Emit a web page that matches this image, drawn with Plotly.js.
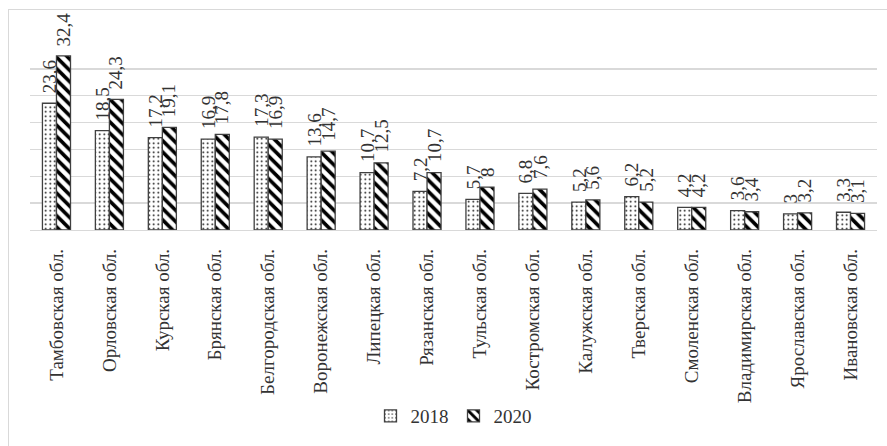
<!DOCTYPE html>
<html><head><meta charset="utf-8">
<script src="https://cdn.plot.ly/plotly-3.0.1.min.js"></script>
<style>
html,body{margin:0;padding:0;overflow:hidden;background:#fff;}
#frame{position:absolute;left:8px;top:9px;width:900px;height:460px;border:1px solid #d9d9d9;box-sizing:border-box;pointer-events:none;}
#chart{position:absolute;left:0;top:0;width:887px;height:446px;}
</style></head>
<body>
<div id="chart"></div>
<div id="frame"></div>
<script>
const categories = ["Тамбовская обл.","Орловская обл.","Курская обл.","Брянская обл.","Белгородская обл.","Воронежская обл.","Липецкая обл.","Рязанская обл.","Тульская обл.","Костромская обл.","Калужская обл.","Тверская обл.","Смоленская обл.","Владимирская обл.","Ярославская обл.","Ивановская обл."];
const values2018 = [23.6,18.5,17.2,16.9,17.3,13.6,10.7,7.2,5.7,6.8,5.2,6.2,4.2,3.6,3,3.3];
const values2020 = [32.4,24.3,19.1,17.8,16.9,14.7,12.5,10.7,8,7.6,5.6,5.2,4.2,3.4,3.2,3.1];
const seriesNames = ["2018","2020"];

const fontFam = "Times New Roman, Liberation Serif, DejaVu Serif, serif";
const fmt = v => String(v).replace('.', ',');

const common = {
  type: 'bar',
  x: categories,
  hoverinfo: 'none'
};

const t1 = Object.assign({}, common, {
  name: seriesNames[0],
  y: values2018,
  marker: {color: 'white', line: {color: '#404040', width: 1.3},
    pattern: {shape: '.', fgcolor: 'black', bgcolor: 'white', size: 4.5, solidity: 0.12}}
});
const t2 = Object.assign({}, common, {
  name: seriesNames[1],
  y: values2020,
  marker: {color: 'white', line: {color: '#404040', width: 1.3},
    pattern: {shape: '\\', fgcolor: 'black', bgcolor: 'white', size: 8, solidity: 0.45}}
});

const annotations = [];
[[values2018, -7], [values2020, 7]].forEach(([vals, dx]) => {
  vals.forEach((v, i) => {
    annotations.push({
      x: categories[i], y: v, xref: 'x', yref: 'y',
      text: fmt(v), showarrow: false, textangle: -90,
      xanchor: 'center', yanchor: 'bottom', xshift: dx, yshift: 8,
      font: {family: fontFam, size: 19, color: '#333'}
    });
  });
});

const layout = {
  width: 887, height: 446,
  margin: {l: 30, r: 10, t: 42, b: 213},
  paper_bgcolor: 'white', plot_bgcolor: 'white',
  font: {family: fontFam, color: '#333'},
  barmode: 'group', bargap: 0.47, bargroupgap: 0,
  showlegend: true,
  annotations: annotations,
  legend: {orientation: 'h', x: 0.5, xanchor: 'center', y: -0.99, yanchor: 'middle',
    font: {family: fontFam, size: 19, color: '#333'}},
  xaxis: {type: 'category', tickangle: -90, showline: true, linecolor: '#d9d9d9', linewidth: 1.3,
    ticks: '', ticklabelstandoff: 10,
    tickfont: {family: fontFam, size: 19, color: '#333'}},
  yaxis: {range: [0, 35], dtick: 5, showgrid: true, gridcolor: '#d9d9d9', gridwidth: 1.3,
    showticklabels: false, zeroline: false, showline: false, ticks: ''}
};

Plotly.newPlot('chart', [t1, t2], layout, {staticPlot: true, displayModeBar: false});
</script>
</body></html>
